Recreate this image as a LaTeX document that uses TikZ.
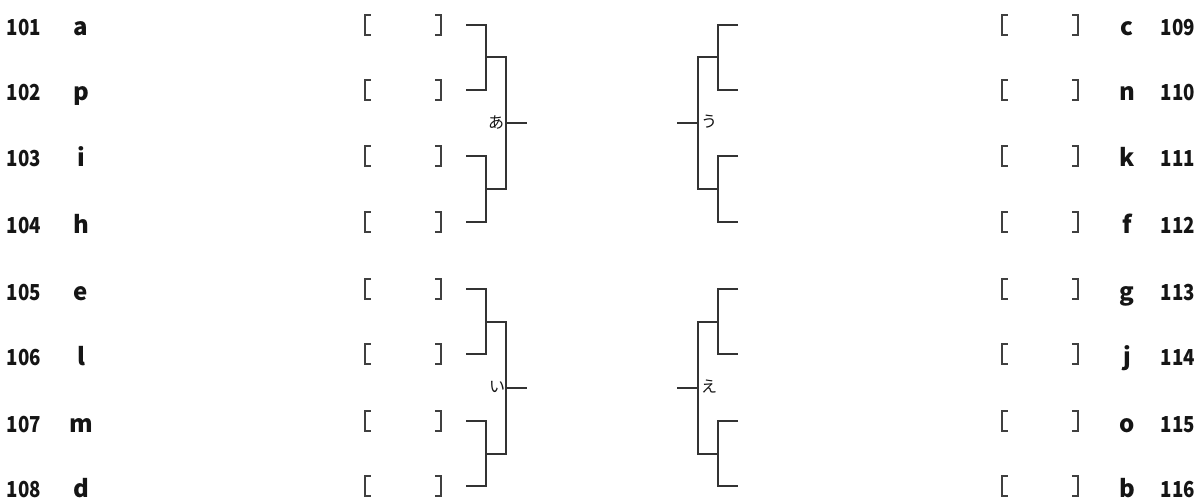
\documentclass[tikz,border=0pt]{standalone}
\usepackage{fontspec}
\usepackage{graphicx}
\newfontfamily\jpfont{Noto Sans CJK JP}
\newcommand{\numfont}{\jpfont\bfseries\fontsize{22}{22}\selectfont}
\newcommand{\letfont}{\jpfont\bfseries\fontsize{24}{24}\selectfont}
\newcommand{\kanafont}{\jpfont\fontsize{16}{16}\selectfont}
\definecolor{ink}{HTML}{151515}
\definecolor{lineink}{HTML}{333333}
\definecolor{brkink}{HTML}{404040}
\begin{document}
\begin{tikzpicture}[x=1pt,y=-1pt,
  tree/.style={line width=2pt, draw=lineink},
  brk/.style={line width=1.7pt, draw=brkink},
  numlbl/.style={font=\numfont, inner sep=0pt, text=ink, anchor=base},
  letlbl/.style={font=\letfont, inner sep=0pt, text=ink, anchor=base},
  kana/.style={font=\kanafont, inner sep=0pt, text=ink},
  slot/.style={minimum width=76pt, minimum height=20pt, inner sep=0pt, draw=none}]
\useasboundingbox[fill=white] (0,0) rectangle (1199,500);

% left column
\foreach \n/\l/\y in {101/a/25,102/p/90,103/i/156,104/h/222,105/e/289,106/l/354,107/m/421,108/d/486}{
  \node[numlbl] (n\n) at (24,\y+11) {\scalebox{0.85}[1]{\n}};
  \node[letlbl] (l\n) at (81,\y+11) {\l};
  \node[slot] (s\n) at (403,\y) {};
  \draw[brk] ([xshift=6pt]s\n.north west) -- (s\n.north west) -- (s\n.south west) -- ([xshift=6pt]s\n.south west);
  \draw[brk] ([xshift=-6pt]s\n.north east) -- (s\n.north east) -- (s\n.south east) -- ([xshift=-6pt]s\n.south east);
  \coordinate (e\n) at (466,\y);
}
% right column
\foreach \n/\l/\y in {109/c/25,110/n/90,111/k/156,112/f/222,113/g/289,114/j/354,115/o/421,116/b/486}{
  \node[numlbl] (n\n) at (1178,\y+11) {\scalebox{0.85}[1]{\n}};
  \node[letlbl] (l\n) at (1127,\y+11) {\l};
  \node[slot] (s\n) at (1040,\y) {};
  \draw[brk] ([xshift=6pt]s\n.north west) -- (s\n.north west) -- (s\n.south west) -- ([xshift=6pt]s\n.south west);
  \draw[brk] ([xshift=-6pt]s\n.north east) -- (s\n.north east) -- (s\n.south east) -- ([xshift=-6pt]s\n.south east);
  \coordinate (e\n) at (738,\y);
}

% left tree, top (あ)
\coordinate (a1) at (486,57.5);
\coordinate (a2) at (486,189);
\coordinate (b1) at (506,57.5);
\coordinate (b2) at (506,189);
\coordinate (c1) at (506,123.25);
\coordinate (o1) at (527,123.25);
\draw[tree] (e101) -| (a1) |- (e102);
\draw[tree] (e103) -| (a2) |- (e104);
\draw[tree] (a1) -- (b1) -- (b2) -- (a2);
\draw[tree] (c1) -- (o1);
\node[kana] (k1) at (496,123) {あ};

% left tree, bottom (い)
\coordinate (a3) at (486,321.5);
\coordinate (a4) at (486,453.5);
\coordinate (b3) at (506,321.5);
\coordinate (b4) at (506,453.5);
\coordinate (c2) at (506,387.5);
\coordinate (o2) at (527,387.5);
\draw[tree] (e105) -| (a3) |- (e106);
\draw[tree] (e107) -| (a4) |- (e108);
\draw[tree] (a3) -- (b3) -- (b4) -- (a4);
\draw[tree] (c2) -- (o2);
\node[kana] (k2) at (497,387) {い};

% right tree, top (う)
\coordinate (a5) at (718,57.5);
\coordinate (a6) at (718,189);
\coordinate (b5) at (698,57.5);
\coordinate (b6) at (698,189);
\coordinate (c3) at (698,123.25);
\coordinate (o3) at (677,123.25);
\draw[tree] (e109) -| (a5) |- (e110);
\draw[tree] (e111) -| (a6) |- (e112);
\draw[tree] (a5) -- (b5) -- (b6) -- (a6);
\draw[tree] (c3) -- (o3);
\node[kana] (k3) at (709,122) {う};

% right tree, bottom (え)
\coordinate (a7) at (718,321.5);
\coordinate (a8) at (718,453.5);
\coordinate (b7) at (698,321.5);
\coordinate (b8) at (698,453.5);
\coordinate (c4) at (698,387.5);
\coordinate (o4) at (677,387.5);
\draw[tree] (e113) -| (a7) |- (e114);
\draw[tree] (e115) -| (a8) |- (e116);
\draw[tree] (a7) -- (b7) -- (b8) -- (a8);
\draw[tree] (c4) -- (o4);
\node[kana] (k4) at (709,387) {え};
\end{tikzpicture}
\end{document}
